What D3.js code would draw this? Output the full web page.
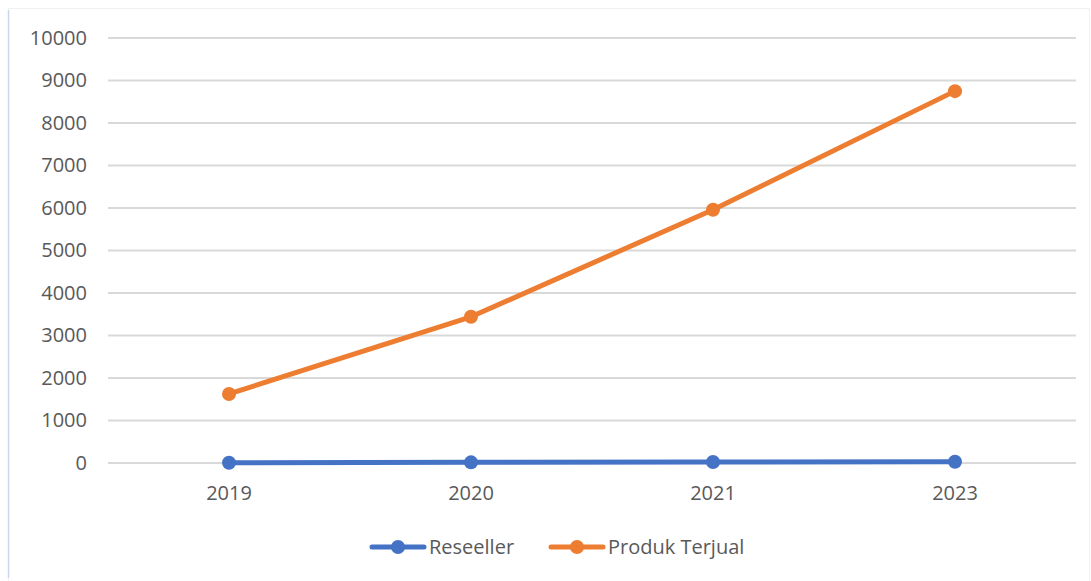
<!DOCTYPE html>
<html>
<head>
<meta charset="utf-8">
<script src="https://cdn.jsdelivr.net/npm/d3@7"></script>
<style>
  body { margin: 0; background: #ffffff; }
  text { font-family: "Open Sans", "Noto Sans", sans-serif; }
</style>
</head>
<body>
<div id="chart-area"></div>
<script>
var years = ["2019", "2020", "2021", "2023"];
var reseller = [5, 15, 25, 30];
var produkTerjual = [1625, 3440, 5960, 8750];
var yTicks = [0, 1000, 2000, 3000, 4000, 5000, 6000, 7000, 8000, 9000, 10000];
var seriesNames = ["Reseeller", "Produk Terjual"];
var seriesColors = ["#4472c4", "#ed7d31"];

var width = 1091, height = 581;
var plot = {left: 108, right: 1076, top: 38, bottom: 463};
var fontSize = 20;

var svg = d3.select("#chart-area").append("svg")
    .attr("width", width)
    .attr("height", height);

// chart frame, faint like the office export
svg.append("rect")
    .attr("x", 8.5).attr("y", 8.5)
    .attr("width", width - 10).attr("height", height - 6)
    .attr("fill", "none")
    .attr("stroke", "#f0f0f0");
svg.append("line")
    .attr("x1", 8.5).attr("x2", 8.5)
    .attr("y1", 10).attr("y2", 578)
    .attr("stroke", "#c9d6ee")
    .attr("stroke-width", 1.5);

var x = d3.scaleBand()
    .domain(years)
    .range([plot.left, plot.right]);

var y = d3.scaleLinear()
    .domain([0, 10000])
    .range([plot.bottom, plot.top]);

// gridlines
svg.append("g")
    .selectAll("line")
    .data(yTicks)
    .enter()
    .append("line")
        .attr("x1", plot.left)
        .attr("x2", plot.right)
        .attr("y1", function(d){ return y(d); })
        .attr("y2", function(d){ return y(d); })
        .attr("stroke", "#d9d9d9")
        .attr("stroke-width", 2);

// y axis labels
var yAxis = d3.axisLeft(y).tickValues(yTicks).tickFormat(d3.format("d")).tickSize(0).tickPadding(0);
var yg = svg.append("g")
    .attr("transform", "translate(87,0)")
    .call(yAxis);
yg.select(".domain").remove();
yg.selectAll("text")
    .attr("font-size", fontSize)
    .attr("fill", "#595959")
    .attr("font-family", "'Open Sans', 'Noto Sans', sans-serif");

// x axis labels
var xAxis = d3.axisBottom(x).tickSize(0).tickPadding(0);
var xg = svg.append("g")
    .attr("transform", "translate(0,486)")
    .call(xAxis);
xg.select(".domain").remove();
xg.selectAll("text")
    .attr("font-size", fontSize)
    .attr("fill", "#595959")
    .attr("font-family", "'Open Sans', 'Noto Sans', sans-serif");

var cx = function(d, i){ return x(years[i]) + x.bandwidth() / 2; };
var line = d3.line()
    .x(cx)
    .y(function(d){ return y(d); });

[reseller, produkTerjual].forEach(function(series, s){
    svg.append("path")
        .datum(series)
        .attr("d", line)
        .attr("fill", "none")
        .attr("stroke", seriesColors[s])
        .attr("stroke-width", 5)
        .attr("stroke-linejoin", "round")
        .attr("stroke-linecap", "round");
    svg.append("g")
        .selectAll("circle")
        .data(series)
        .enter()
        .append("circle")
            .attr("cx", cx)
            .attr("cy", function(d){ return y(d); })
            .attr("r", 7)
            .attr("fill", seriesColors[s]);
});

// legend
var legendX = [370, 549];
var legend = svg.append("g").selectAll("g")
    .data(seriesNames)
    .enter()
    .append("g")
        .attr("transform", function(d, i){ return "translate(" + legendX[i] + ",547)"; });
legend.append("line")
    .attr("x1", 2).attr("x2", 54)
    .attr("stroke", function(d, i){ return seriesColors[i]; })
    .attr("stroke-width", 5)
    .attr("stroke-linecap", "round");
legend.append("circle")
    .attr("cx", 28)
    .attr("r", 7)
    .attr("fill", function(d, i){ return seriesColors[i]; });
legend.append("text")
    .attr("x", 59)
    .attr("dy", "0.35em")
    .attr("font-size", fontSize)
    .attr("fill", "#595959")
    .text(function(d){ return d; });
</script>
</body>
</html>
